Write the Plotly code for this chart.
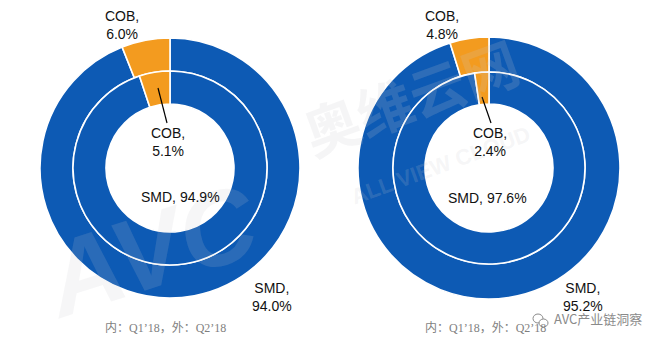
import plotly.graph_objects as go

W, H = 660, 345

categories = ["COB", "SMD"]
left_inner_q1 = [5.1, 94.9]
left_outer_q2 = [6.0, 94.0]
right_inner_q1 = [2.4, 97.6]
right_outer_q2 = [4.8, 95.2]
legend_note = "内：Q1’18，外：Q2’18"

colors = ["#F39B1F", "#0D5AB4"]


def px(x):
    return x / W


def py(y):
    return 1 - y / H


def dom(cx, cy, r):
    return dict(x=[px(cx - r), px(cx + r)], y=[py(cy + r), py(cy - r)])


fig = go.Figure()


def donut(vals, cx, cy, r, hole, name):
    # SMD first, clockwise from 12 o'clock, so COB ends at 12 o'clock (just left of top)
    fig.add_trace(go.Pie(
        labels=categories[::-1], values=vals[::-1], name=name,
        sort=False, direction="clockwise", rotation=0,
        hole=hole, domain=dom(cx, cy, r),
        marker=dict(colors=colors[::-1], line=dict(color="white", width=1.6)),
        textinfo="none", hoverinfo="label+percent+name", showlegend=False,
    ))


donut(left_outer_q2, 170, 168, 130, 97 / 130, "Q2'18")
donut(left_inner_q1, 170, 168, 97, 64 / 97, "Q1'18")
donut(right_outer_q2, 489, 168, 131, 96 / 131, "Q2'18")
donut(right_inner_q1, 489, 168, 96, 64 / 96, "Q1'18")

FONT = "Liberation Sans, Arial, sans-serif"
ann = []


def label(x, y, text, size=14, color="#111111", family=FONT, **kw):
    ann.append(dict(x=px(x), y=py(y), xref="paper", yref="paper", text=text,
                    showarrow=False, font=dict(size=size, color=color, family=family),
                    xanchor="center", yanchor="middle", **kw))


# watermark (faint)
label(150, 250, "<i><b>AVC</b></i>", size=105, color="rgba(200,200,205,0.16)", textangle=-18)
label(410, 95, "<b>奥维云网</b>", size=56, color="rgba(200,200,205,0.18)",
      family="Noto Sans CJK SC", textangle=-20)
label(440, 165, "<b>ALL VIEW CLOUD</b>", size=22, color="rgba(200,200,205,0.18)", textangle=-20)

# left donut labels
label(122, 25, f"{categories[0]},<br>{left_outer_q2[0]:.1f}%")
label(168, 142, f"{categories[0]},<br>{left_inner_q1[0]:.1f}%")
label(180, 197, f"{categories[1]}, {left_inner_q1[1]:.1f}%")
label(272, 297, f"{categories[1]},<br>{left_outer_q2[1]:.1f}%")
label(165, 328, legend_note, size=12, color="#7f7f7f",
      family="Liberation Serif, Noto Sans CJK SC, serif")

# right donut labels
label(442, 25, f"{categories[0]},<br>{right_outer_q2[0]:.1f}%")
label(490, 142, f"{categories[0]},<br>{right_inner_q1[0]:.1f}%")
label(487, 198, f"{categories[1]}, {right_inner_q1[1]:.1f}%")
label(583, 297, f"{categories[1]},<br>{right_outer_q2[1]:.1f}%")
label(485, 328, legend_note, size=12, color="#7f7f7f",
      family="Liberation Serif, Noto Sans CJK SC, serif")

# WeChat-style source mark
label(598, 318, "AVC产业链洞察", size=13, color="#8a8a8a", family="Noto Sans CJK SC")

shapes = [
    dict(type="line", xref="paper", yref="paper", x0=px(158), y0=py(88), x1=px(167), y1=py(123),
         line=dict(color="black", width=1.2)),
    dict(type="line", xref="paper", yref="paper", x0=px(482), y0=py(97), x1=px(491), y1=py(123),
         line=dict(color="black", width=1.2)),
    dict(type="circle", xref="paper", yref="paper", x0=px(533), y0=py(323), x1=px(543), y1=py(314),
         line=dict(color="#8a8a8a", width=1)),
    dict(type="circle", xref="paper", yref="paper", x0=px(539), y0=py(327), x1=px(548), y1=py(319),
         line=dict(color="#8a8a8a", width=1), fillcolor="white"),
]

fig.update_layout(
    width=W, height=H, margin=dict(l=0, r=0, t=0, b=0),
    paper_bgcolor="white", plot_bgcolor="white",
    annotations=ann, shapes=shapes,
)

fig.write_html("out.html")
